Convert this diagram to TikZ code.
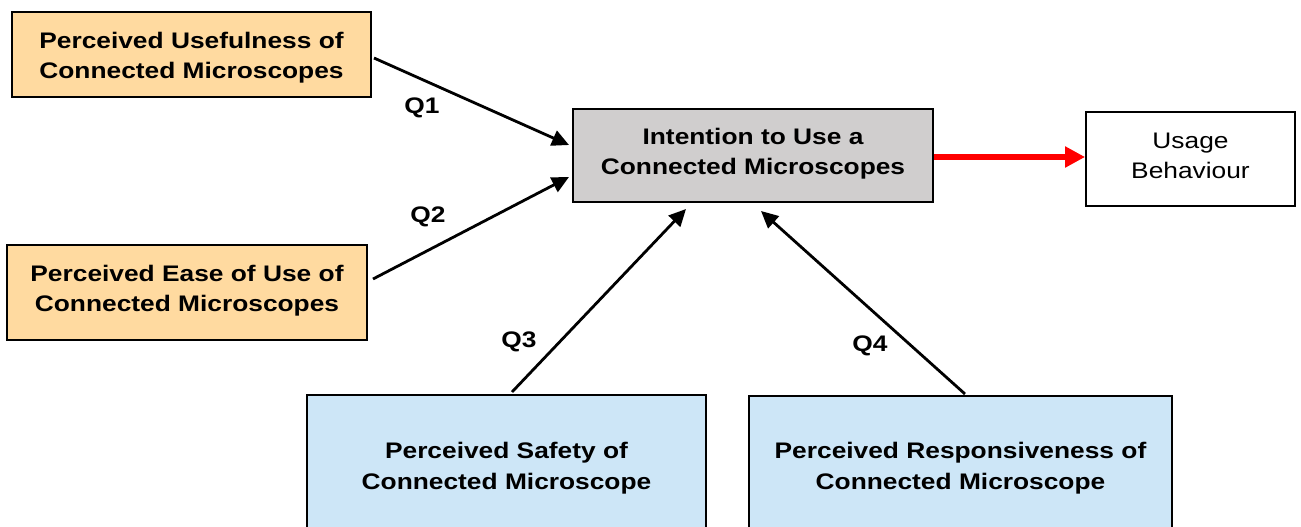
\documentclass[tikz,border=0pt]{standalone}
\usepackage{fontspec}
\setmainfont{Liberation Sans}[FakeStretch=1.17]
\usetikzlibrary{arrows.meta}
\definecolor{peach}{HTML}{FFDAA0}
\definecolor{greybox}{HTML}{D0CECE}
\definecolor{skyblue}{HTML}{CDE6F7}
\tikzset{
  box/.style={draw=black, line width=1.8pt, inner sep=0pt},
  boldtxt/.style={inner sep=0pt, align=center, font=\fontsize{22.5}{30}\selectfont\bfseries},
  lowtxt/.style={inner sep=0pt, align=center, font=\fontsize{22.5}{31}\selectfont\bfseries},
  plaintxt/.style={inner sep=0pt, align=center, font=\fontsize{22.5}{30}\selectfont},
  link/.style={line width=2.8pt, -{Triangle[length=17pt,width=16pt]}},
  mainlink/.style={line width=6.5pt, draw=red, -{Triangle[length=20pt,width=20pt]}},
  qlabel/.style={font=\fontsize{22.5}{26}\selectfont\bfseries, inner sep=0pt}
}
\begin{document}
\begin{tikzpicture}[x=1pt,y=-1pt]
\useasboundingbox (0,0) rectangle (1301,527);
\clip (0,0) rectangle (1301,527);

% factor boxes and their captions
\node[box, fill=peach, minimum width=359pt, minimum height=85pt] (use) at (191.5,54.5) {};
\node[boldtxt] (usetxt) at (191.5,58)
  {Perceived Usefulness of\\Connected Microscopes};
\node[box, fill=peach, minimum width=360pt, minimum height=95pt] (ease) at (187,292.5) {};
\node[boldtxt] (easetxt) at (187,290.5)
  {Perceived Ease of Use of\\Connected Microscopes};
\node[box, fill=greybox, minimum width=360pt, minimum height=93pt] (intent) at (753,155.5) {};
\node[boldtxt] (intenttxt) at (753,153.5)
  {Intention to Use a\\Connected Microscopes};
\node[box, fill=white, minimum width=209pt, minimum height=94pt] (usage) at (1190.5,159) {};
\node[plaintxt] (usagetxt) at (1190.5,155.5)
  {Usage\\Behaviour};
\node[box, fill=skyblue, minimum width=399pt, minimum height=142pt] (safe) at (506.5,466) {};
\node[lowtxt] (safetxt) at (506.5,468)
  {Perceived Safety of\\Connected Microscope};
\node[box, fill=skyblue, minimum width=423pt, minimum height=140pt] (resp) at (960.5,466) {};
\node[lowtxt] (resptxt) at (960.5,468)
  {Perceived Responsiveness of\\Connected Microscope};

% connector end points
\coordinate (q1s) at (374,58);   \coordinate (q1e) at (569,145);
\coordinate (q2s) at (373,279);  \coordinate (q2e) at (569,177);
\coordinate (q3s) at (512,392);  \coordinate (q3e) at (686,209);
\coordinate (q4s) at (965,394);  \coordinate (q4e) at (761,211);
\coordinate (rs) at (intent.east |- 0,157);
\coordinate (re) at (usage.west |- 0,157);

\draw[link] (q1s) -- (q1e);
\draw[link] (q2s) -- (q2e);
\draw[link] (q3s) -- (q3e);
\draw[link] (q4s) -- (q4e);
\draw[mainlink] (rs) -- (re);

% path labels
\node[qlabel] (l1) at (422,108) {Q1};
\node[qlabel] (l2) at (428,217) {Q2};
\node[qlabel] (l3) at (519,342) {Q3};
\node[qlabel] (l4) at (870,346) {Q4};
\end{tikzpicture}
\end{document}
